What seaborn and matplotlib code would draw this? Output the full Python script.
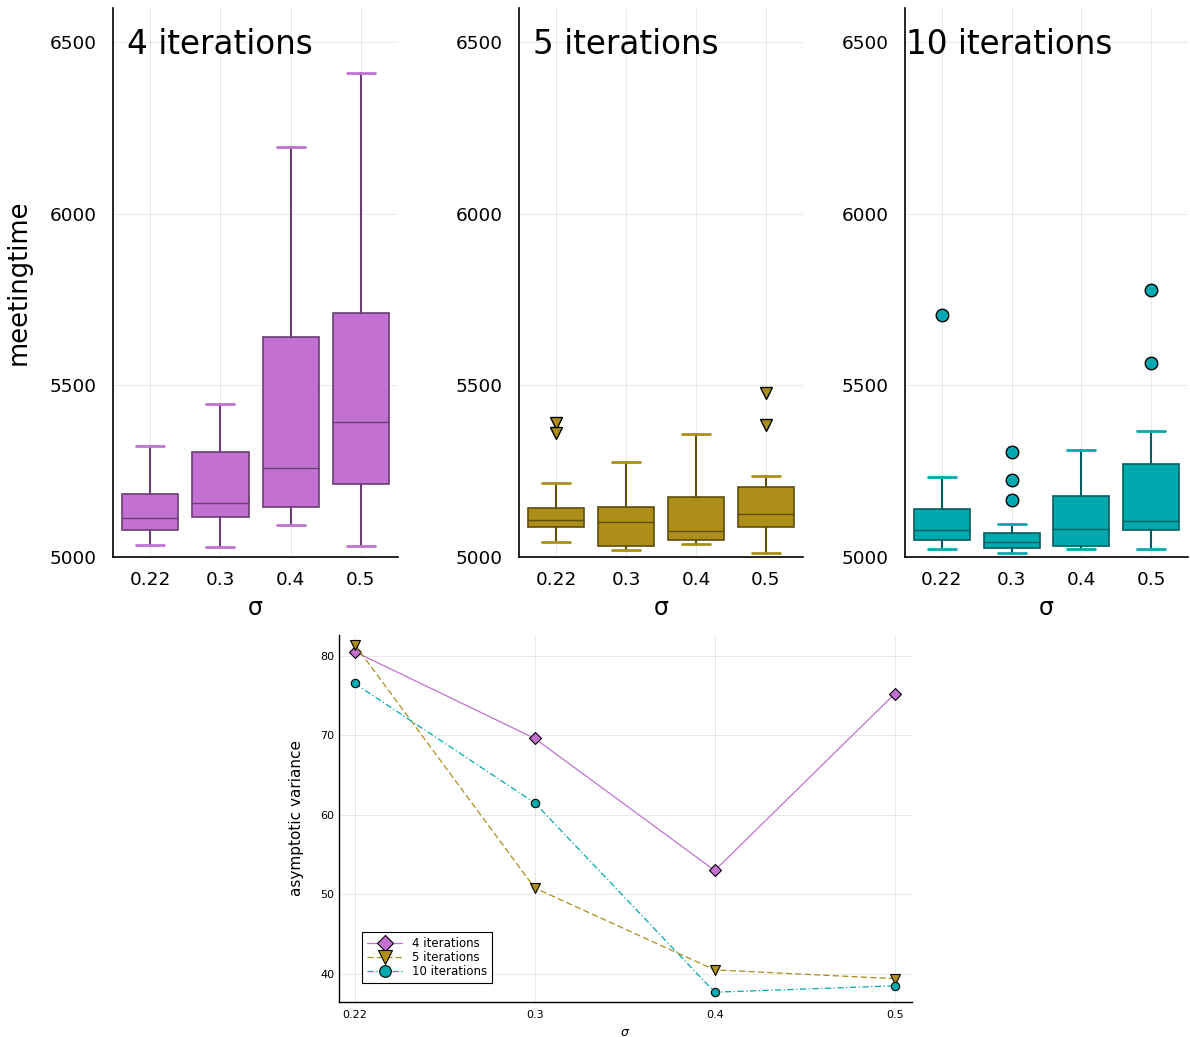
import matplotlib
matplotlib.use("Agg")
import matplotlib.pyplot as plt
import matplotlib.colors as mcolors
import seaborn as sns
import pandas as pd

sigma_labels = ["0.22", "0.3", "0.4", "0.5"]
panel_titles = ["4 iterations", "5 iterations", "10 iterations"]
panel_colors = ["#c271d2", "#ac8e18", "#00a9ad"]
panel_markers = ["D", "v", "o"]

# five-number summaries (low whisker, Q1, median, Q3, high whisker)
whislo_4 = [5035, 5030, 5092, 5033]
q1_4 = [5079, 5117, 5146, 5214]
med_4 = [5114, 5158, 5259, 5394]
q3_4 = [5184, 5305, 5642, 5710]
whishi_4 = [5323, 5446, 6195, 6411]
fliers_4 = [[], [], [], []]

whislo_5 = [5044, 5020, 5037, 5011]
q1_5 = [5088, 5033, 5050, 5088]
med_5 = [5108, 5101, 5077, 5124]
q3_5 = [5144, 5147, 5176, 5203]
whishi_5 = [5216, 5278, 5359, 5237]
fliers_5 = [[5390, 5361], [], [], [5477, 5385]]

whislo_10 = [5022, 5012, 5022, 5024]
q1_10 = [5050, 5027, 5032, 5079]
med_10 = [5080, 5043, 5082, 5106]
q3_10 = [5139, 5071, 5179, 5270]
whishi_10 = [5234, 5096, 5312, 5368]
fliers_10 = [[5706], [5307, 5224, 5166], [], [5778, 5564]]

# asymptotic variance
avar_4 = [80.5, 69.6, 53.0, 75.2]
avar_5 = [81.4, 50.8, 40.5, 39.4]
avar_10 = [76.5, 61.5, 37.7, 38.5]

summaries = [
    (whislo_4, q1_4, med_4, q3_4, whishi_4, fliers_4),
    (whislo_5, q1_5, med_5, q3_5, whishi_5, fliers_5),
    (whislo_10, q1_10, med_10, q3_10, whishi_10, fliers_10),
]

sns.set_style("white")
plt.rcParams["font.family"] = ["DejaVu Sans"]
plt.rcParams["text.color"] = "black"
plt.rcParams["axes.labelcolor"] = "black"
plt.rcParams["xtick.color"] = "black"
plt.rcParams["ytick.color"] = "black"

fig = plt.figure(figsize=(11.9, 10.37), dpi=100)

lefts = [0.0950, 0.4361, 0.7605]
widths = [0.2395, 0.2387, 0.2378]
title_x = [0.049, 0.049, 0.004]


def darker(c, f=0.5):
    r, g, b = mcolors.to_rgb(c)
    return (r * f, g * f, b * f)


def style_axes(ax, lw=1.2):
    for s in ["top", "right"]:
        ax.spines[s].set_visible(False)
    for s in ["left", "bottom"]:
        ax.spines[s].set_color("black")
        ax.spines[s].set_linewidth(lw)
    ax.grid(True, color="black", alpha=0.1, linewidth=0.6)
    ax.set_axisbelow(True)


for k in range(3):
    ax = fig.add_axes([lefts[k], 0.4629, widths[k], 0.5294])
    lo, q1, med, q3, hi, fl = summaries[k]
    stats = []
    for i in range(len(sigma_labels)):
        stats.append(dict(whislo=lo[i], q1=q1[i], med=med[i], q3=q3[i], whishi=hi[i],
                          fliers=fl[i], label=sigma_labels[i]))
    col = panel_colors[k]
    dk = darker(col, 0.55)
    ax.bxp(stats, positions=range(len(stats)), widths=0.8, patch_artist=True,
           showfliers=True,
           boxprops=dict(facecolor=col, edgecolor=dk, linewidth=1.2),
           medianprops=dict(color=dk, linewidth=1.0),
           whiskerprops=dict(color=dk, linewidth=1.5),
           capprops=dict(color=col, linewidth=2.0),
           capwidths=0.4,
           flierprops=dict(marker=panel_markers[k], markerfacecolor=col,
                           markeredgecolor="black", markersize=9, linestyle="none"))
    style_axes(ax)
    ax.set_ylim(5000, 6600)
    ax.set_xlim(-0.53, 3.53)
    ax.set_yticks([5000, 5500, 6000, 6500])
    ax.set_xticks(range(len(sigma_labels)))
    ax.set_xticklabels(sigma_labels)
    ax.tick_params(axis="both", direction="in", length=4, labelsize=13.3, color="black")
    ax.tick_params(axis="y", pad=12)
    ax.tick_params(axis="x", pad=10)
    ax.set_xlabel("σ", fontsize=17, labelpad=5)
    if k == 0:
        ax.set_ylabel("meetingtime", fontsize=18.5)
        ax.yaxis.set_label_coords(-0.285, 0.5)
    ax.text(title_x[k], 0.934, panel_titles[k], transform=ax.transAxes,
            fontsize=23.5, va="center", ha="left")

# bottom panel
ax = fig.add_axes([0.2849, 0.0340, 0.4815, 0.3537])
df = pd.DataFrame({
    "sigma": sigma_labels * 3,
    "avar": avar_4 + avar_5 + avar_10,
    "series": [panel_titles[0]] * 4 + [panel_titles[1]] * 4 + [panel_titles[2]] * 4,
})
sns.lineplot(data=df, x="sigma", y="avar", hue="series", style="series",
             palette=dict(zip(panel_titles, panel_colors)),
             markers=dict(zip(panel_titles, panel_markers)),
             dashes={panel_titles[0]: "", panel_titles[1]: (5, 2.5),
                     panel_titles[2]: (5, 2, 1, 2)},
             markeredgecolor="black", markeredgewidth=0.8, markersize=6,
             linewidth=0.9, ax=ax)
for line in ax.lines:
    if line.get_marker() == "v":
        line.set_markersize(7.5)
style_axes(ax, lw=1.0)
ax.set_xlim(-0.087, 3.096)
ax.set_ylim(36.5, 82.6)
ax.set_yticks([40, 50, 60, 70, 80])
ax.tick_params(axis="both", direction="in", length=3, labelsize=8, color="black")
ax.tick_params(axis="x", pad=6)
ax.set_xlabel("$\\sigma$", fontsize=9)
ax.set_ylabel("asymptotic variance", fontsize=11)
ax.yaxis.set_label_coords(-0.062, 0.5)
leg = ax.legend(loc="lower left", bbox_to_anchor=(0.03, 0.035), fontsize=8.5,
                frameon=True, fancybox=False, edgecolor="black", framealpha=1,
                borderpad=0.4, labelspacing=0.1, handlelength=3, markerscale=1.4)
leg.get_frame().set_linewidth(0.8)
leg.set_title(None)

fig.savefig("out.png", dpi=100)
